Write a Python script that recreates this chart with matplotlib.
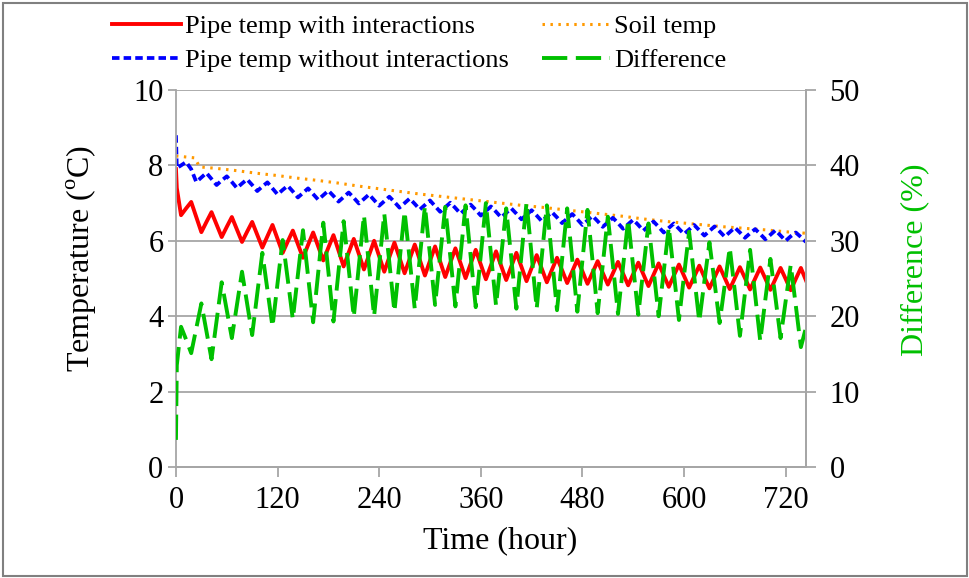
import matplotlib
matplotlib.use('Agg')
import matplotlib.pyplot as plt
import numpy as np
from matplotlib.patches import Rectangle

plt.rcParams['font.family'] = ['Liberation Serif', 'DejaVu Serif']
plt.rcParams['mathtext.fontset'] = 'custom'
plt.rcParams['mathtext.rm'] = 'Liberation Serif'

# time axis (hours): start plus 6 h steps
hours = np.concatenate([[0, 1], np.arange(6, 745, 6)])

pipe_with = [7.90, 7.40, 6.68, 6.86, 7.03,
             6.63, 6.23, 6.50, 6.76, 6.43, 6.10, 6.37, 6.63,
             6.30, 5.97, 6.24, 6.50, 6.16, 5.82, 6.12, 6.42,
             6.05, 5.68, 5.98, 6.27, 5.91, 5.55, 5.89, 6.22,
             5.85, 5.48, 5.82, 6.15, 5.74, 5.32, 5.69, 6.05,
             5.65, 5.24, 5.62, 6.00, 5.59, 5.18, 5.57, 5.95,
             5.55, 5.14, 5.52, 5.90, 5.49, 5.08, 5.47, 5.85,
             5.45, 5.04, 5.42, 5.80, 5.41, 5.01, 5.39, 5.76,
             5.37, 4.98, 5.35, 5.72, 5.34, 4.96, 5.32, 5.68,
             5.31, 4.93, 5.28, 5.62, 5.26, 4.90, 5.23, 5.55,
             5.22, 4.88, 5.19, 5.50, 5.19, 4.86, 5.16, 5.46,
             5.15, 4.84, 5.14, 5.44, 5.13, 4.82, 5.12, 5.42,
             5.11, 4.80, 5.10, 5.40, 5.09, 4.78, 5.08, 5.37,
             5.07, 4.76, 5.05, 5.34, 5.04, 4.74, 5.03, 5.32,
             5.02, 4.72, 5.01, 5.30, 5.01, 4.71, 5.00, 5.29,
             5.00, 4.70, 4.99, 5.28, 4.99, 4.69, 4.99, 5.28,
             4.95]

pipe_without = [8.80, 7.93, 8.00, 8.09, 7.90,
                7.56, 7.68, 7.80, 7.64, 7.48, 7.60, 7.71, 7.56,
                7.40, 7.52, 7.63, 7.48, 7.32, 7.44, 7.55, 7.39,
                7.23, 7.35, 7.46, 7.31, 7.15, 7.27, 7.39, 7.24,
                7.09, 7.21, 7.33, 7.19, 7.04, 7.16, 7.28, 7.14,
                6.99, 7.11, 7.23, 7.08, 6.93, 7.05, 7.17, 7.03,
                6.88, 7.00, 7.12, 6.98, 6.83, 6.95, 7.07, 6.92,
                6.77, 6.89, 7.01, 6.87, 6.72, 6.84, 6.96, 6.82,
                6.67, 6.79, 6.91, 6.77, 6.62, 6.74, 6.86, 6.72,
                6.57, 6.69, 6.81, 6.67, 6.52, 6.64, 6.76, 6.62,
                6.47, 6.59, 6.71, 6.57, 6.42, 6.54, 6.66, 6.52,
                6.37, 6.49, 6.61, 6.47, 6.32, 6.44, 6.56, 6.42,
                6.27, 6.39, 6.51, 6.37, 6.22, 6.34, 6.46, 6.32,
                6.18, 6.30, 6.42, 6.28, 6.14, 6.26, 6.38, 6.25,
                6.11, 6.23, 6.35, 6.22, 6.08, 6.20, 6.31, 6.18,
                6.04, 6.16, 6.28, 6.14, 6.00, 6.12, 6.22, 6.10,
                5.97]

difference = [3.6, 13.5, 18.6, 16.9, 15.1,
              18.4, 21.7, 18.0, 14.3, 19.4, 24.5, 20.8, 17.1,
              21.5, 25.9, 21.7, 17.5, 23.0, 28.4, 23.5, 18.6,
              24.4, 30.1, 24.9, 19.6, 25.5, 31.4, 25.3, 19.2,
              25.8, 32.4, 25.9, 19.3, 26.0, 32.6, 26.3, 19.9,
              26.7, 33.4, 26.7, 20.0, 26.8, 33.6, 27.1, 20.6,
              27.3, 33.9, 27.5, 21.0, 27.8, 34.6, 28.1, 21.5,
              28.0, 34.5, 27.9, 21.3, 28.0, 34.7, 28.0, 21.2,
              28.1, 35.0, 28.2, 21.4, 27.9, 34.3, 27.7, 21.0,
              28.1, 35.1, 28.1, 21.0, 27.9, 34.7, 27.8, 20.8,
              27.6, 34.3, 27.5, 20.6, 27.4, 34.1, 27.3, 20.4,
              26.8, 33.2, 26.8, 20.3, 26.6, 32.8, 26.5, 20.2,
              26.3, 32.3, 26.2, 20.0, 25.9, 31.8, 25.7, 19.5,
              25.4, 31.2, 25.3, 19.3, 24.6, 29.8, 24.5, 19.1,
              24.1, 29.1, 23.3, 17.4, 23.1, 28.8, 22.8, 16.7,
              22.2, 27.6, 22.4, 17.1, 22.0, 26.8, 21.4, 15.9,
              18.5]

soil_hours = [0, 22, 28, 48, 72, 96, 120, 144, 168, 192, 216, 240, 264, 288,
              312, 336, 360, 384, 408, 432, 456, 480, 504, 528, 552, 576, 600,
              624, 648, 672, 696, 720, 744]
soil_temp = [8.25, 8.20, 7.96, 7.92, 7.86, 7.79, 7.73, 7.66, 7.60, 7.53, 7.45,
             7.38, 7.31, 7.24, 7.18, 7.12, 7.06, 7.00, 6.94, 6.89, 6.83, 6.77,
             6.71, 6.65, 6.58, 6.52, 6.47, 6.42, 6.37, 6.33, 6.29, 6.24, 6.20]

grey = '#A6A6A6'
green = '#00C000'

fig = plt.figure(figsize=(9.7, 5.78), dpi=100)
ax = fig.add_axes([0.1814, 0.192, 0.6495, 0.6523])
ax2 = ax.twinx()

l1, = ax.plot(hours, pipe_with, color='#FF0000', lw=2.8, label='Pipe temp with interactions',
              solid_joinstyle='round')
l3, = ax.plot(soil_hours, soil_temp, color='#FF9900', lw=2.2, dashes=(0.8, 1.8),
              label='Soil temp')
l2, = ax.plot(hours, pipe_without, color='#0000FF', lw=2.7, dashes=(2.0, 1.1),
              label='Pipe temp without interactions')
l4, = ax2.plot(hours, difference, color=green, lw=2.8, dashes=(6.5, 2.2), label='Difference')

ax.set_xlim(0, 744)
ax.set_ylim(0, 10)
ax2.set_ylim(0, 50)
ax.set_xticks(np.arange(0, 721, 120))
ax.set_yticks(np.arange(0, 11, 2))
ax2.set_yticks(np.arange(0, 51, 10))
ax.yaxis.grid(True, color=grey, lw=1.3)
ax.set_axisbelow(True)

for a in (ax, ax2):
    a.spines['top'].set_visible(False)
    for s in ('left', 'right', 'bottom'):
        a.spines[s].set_color(grey)
        a.spines[s].set_linewidth(1.3)
    a.tick_params(direction='out', color=grey, width=1.3, length=6, labelsize=22)
ax2.spines['left'].set_visible(False)
ax.tick_params(axis='x', length=7, pad=7)
ax.tick_params(axis='y', pad=3)
ax2.tick_params(axis='y', pad=10, length=7)

ax.set_xlabel('Time (hour)', fontsize=23)
ax.xaxis.set_label_coords(0.514, -0.158)
ax.set_ylabel(r'Temperature ($^{\rm o}$C)', fontsize=23)
ax.yaxis.set_label_coords(-0.122, 0.553)
ax2.set_ylabel('Difference (%)', fontsize=23, color=green)
ax2.yaxis.set_label_coords(1.150, 0.550)

fig.legend(handles=[l1, l2, l3, l4], loc='upper left', bbox_to_anchor=(0.105, 0.993),
           ncol=2, frameon=False, fontsize=19, handlelength=2.6, handletextpad=0.15,
           labelspacing=0.4, columnspacing=1.25, borderaxespad=0)

fig.patches.append(Rectangle((0.003, 0.004), 0.994, 0.991, transform=fig.transFigure,
                             fill=False, edgecolor='#808080', lw=1.5))

fig.savefig('out.png', dpi=100)
